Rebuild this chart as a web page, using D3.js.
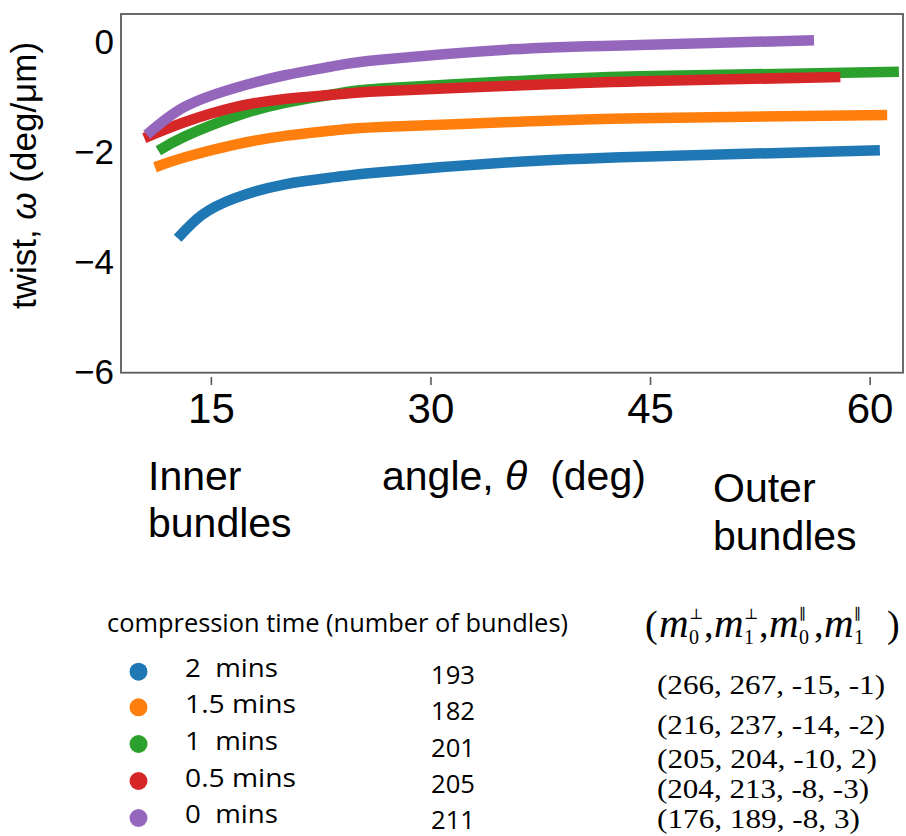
<!DOCTYPE html>
<html>
<head>
<meta charset="utf-8">
<script src="https://cdn.jsdelivr.net/npm/d3@7"></script>
<style>
  html, body { margin: 0; padding: 0; background: #fff; }
  svg { display: block; }
  text { white-space: pre; }
</style>
</head>
<body>
<svg id="chart" width="906" height="836"></svg>
<script>
// ---------------- data ----------------
const seriesNames = ["2  mins", "1.5 mins", "1  mins", "0.5 mins", "0  mins"];
const bundleCounts = ["193", "182", "201", "205", "211"];
const mParams = ["(266, 267, -15, -1)", "(216, 237, -14, -2)", "(205, 204, -10, 2)", "(204, 213, -8, -3)", "(176, 189, -8, 3)"];
const colors = ["#1f77b4", "#ff7f0e", "#2ca02c", "#d62728", "#9467bd"];

const theta2 = [12.73, 14.37, 16.65, 20.06, 23.48, 26.6, 35.5, 44.3, 60.7];
const twist2 = [-3.56, -3.14, -2.83, -2.58, -2.45, -2.36, -2.18, -2.08, -1.96];
const theta15 = [11.18, 13.23, 16.65, 20.06, 23.48, 26.6, 35.5, 44.3, 61.2];
const twist15 = [-2.27, -2.09, -1.86, -1.70, -1.60, -1.54, -1.45, -1.38, -1.32];
const theta1 = [11.41, 13.23, 16.65, 20.06, 23.48, 26.6, 35.5, 44.3, 62.0];
const twist1 = [-1.97, -1.71, -1.35, -1.10, -0.94, -0.84, -0.71, -0.62, -0.535];
const theta05 = [10.45, 13.23, 16.65, 20.06, 23.48, 26.6, 35.5, 44.3, 58.0];
const twist05 = [-1.74, -1.45, -1.18, -1.03, -0.95, -0.89, -0.79, -0.71, -0.63];
const theta0 = [10.62, 13.23, 16.65, 20.06, 23.48, 26.6, 35.5, 44.3, 56.2];
const twist0 = [-1.68, -1.17, -0.83, -0.60, -0.43, -0.32, -0.13, -0.05, 0.035];

const xTicks = [15, 30, 45, 60];
const yTicks = [0, -2, -4, -6];

const seriesTheta = [theta2, theta15, theta1, theta05, theta0];
const seriesTwist = [twist2, twist15, twist1, twist05, twist0];

// ---------------- layout ----------------
const svg = d3.select("#chart");
const L = 121, T = 14, R = 903, B = 372.7;

const x = d3.scaleLinear().domain([8.86, 62.28]).range([L, R]);
const y = d3.scaleLinear().domain([-6, 0.512]).range([B, T]);

const sansAxis = "'Liberation Sans', Arial, sans-serif";
const sansLegend = "'Open Sans', 'Noto Sans', sans-serif";
const serif = "'Liberation Serif', 'DejaVu Serif', serif";

// lines
const line = d3.line().x(d => x(d[0])).y(d => y(d[1])).curve(d3.curveNatural);
seriesTheta.forEach((th, i) => {
  const pts = th.map((t, j) => [t, seriesTwist[i][j]]);
  svg.append("path")
    .attr("d", line(pts))
    .attr("fill", "none")
    .attr("stroke", colors[i])
    .attr("stroke-width", 10.5)
    .attr("stroke-linecap", "butt")
    .attr("stroke-linejoin", "round");
});

// frame
svg.append("rect")
  .attr("x", L).attr("y", T).attr("width", R - L).attr("height", B - T)
  .attr("fill", "none").attr("stroke", "#5a5a5a").attr("stroke-width", 1.8);

// y axis
const yAxis = d3.axisLeft(y).tickValues(yTicks).tickSizeInner(0).tickSizeOuter(0).tickPadding(7)
  .tickFormat(d3.format("d"));
const gy = svg.append("g").attr("transform", `translate(${L},0)`).call(yAxis);
gy.select(".domain").remove();
gy.selectAll("text").attr("font-family", sansAxis).attr("font-size", 35).attr("fill", "#000");

// x axis (ticks detached slightly below frame)
const xAxis = d3.axisBottom(x).tickValues(xTicks).tickSizeInner(8).tickSizeOuter(0).tickPadding(8);
const gx = svg.append("g").attr("transform", `translate(0,377)`).call(xAxis);
gx.select(".domain").remove();
gx.selectAll("line").attr("stroke", "#5a5a5a").attr("stroke-width", 1.6);
gx.selectAll("text").attr("font-family", sansAxis).attr("font-size", 42).attr("fill", "#000");

// y axis title
const yt = svg.append("text")
  .attr("transform", "translate(36,175.5) rotate(-90)")
  .attr("text-anchor", "middle")
  .attr("font-family", sansAxis).attr("font-size", 35).attr("fill", "#000");
yt.append("tspan").text("twist, ");
yt.append("tspan").attr("font-style", "italic").text("ω");
yt.append("tspan").text(" (deg/μm)");

// x axis labels
const axLab = (txt, xx, yy) => svg.append("text").attr("x", xx).attr("y", yy)
  .attr("font-family", sansAxis).attr("font-size", 41).attr("fill", "#000").text(txt);
axLab("Inner", 148, 490);
axLab("bundles", 148, 537);
axLab("Outer", 713, 502);
axLab("bundles", 713, 550);
const xt = svg.append("text").attr("x", 382).attr("y", 490)
  .attr("font-family", sansAxis).attr("font-size", 41).attr("fill", "#000");
xt.append("tspan").text("angle, ");
xt.append("tspan").attr("font-style", "italic").text("θ");
xt.append("tspan").text("  (deg)");

// legend
svg.append("text").attr("x", 107).attr("y", 632)
  .attr("font-family", sansLegend).attr("font-size", 25).attr("fill", "#000")
  .attr("textLength", 461).attr("lengthAdjust", "spacingAndGlyphs")
  .text("compression time (number of bundles)");
const dotY = [671.7, 707.3, 744, 781, 818];
const labY = [677, 713, 750, 787, 823];
const labW = [93, 111, 93, 111, 93];
const numY = [684, 720, 757, 793, 829];
seriesNames.forEach((n, i) => {
  svg.append("circle").attr("cx", 138.5).attr("cy", dotY[i]).attr("r", 9).attr("fill", colors[i]);
  svg.append("text").attr("x", 185).attr("y", labY[i])
    .attr("font-family", sansLegend).attr("font-size", 26).attr("fill", "#000")
    .attr("textLength", labW[i]).attr("lengthAdjust", "spacingAndGlyphs").text(n);
  svg.append("text").attr("x", 431).attr("y", numY[i])
    .attr("font-family", sansLegend).attr("font-size", 26).attr("fill", "#000")
    .attr("textLength", 44).attr("lengthAdjust", "spacingAndGlyphs").text(bundleCounts[i]);
});

// parameter column header
const hdrY = 637;
const hf = 38;
svg.append("text").attr("x", 645).attr("y", hdrY).attr("font-family", serif).attr("font-size", hf).text("(");
const subs = ["0", "1", "0", "1"];
const sups = ["⊥", "⊥", "∥", "∥"];
subs.forEach((s, i) => {
  const mx = 659 + i * 55;
  svg.append("text").attr("x", mx).attr("y", hdrY).attr("font-family", serif)
    .attr("font-style", "italic").attr("font-size", 41).text("m");
  svg.append("text").attr("x", mx + 30).attr("y", hdrY + 7).attr("font-family", serif)
    .attr("font-size", 20).text(s);
  svg.append("text").attr("x", mx + 30).attr("y", hdrY - 18).attr("font-family", "'DejaVu Serif', serif")
    .attr("font-size", 15).text(sups[i]);
  if (i < 3) svg.append("text").attr("x", mx + 45).attr("y", hdrY).attr("font-family", serif)
    .attr("font-size", hf).text(",");
});
svg.append("text").attr("x", 887).attr("y", hdrY).attr("font-family", serif).attr("font-size", hf).text(")");

const parY = [694, 734, 768, 798, 828];
const parW = [228, 228, 220, 212, 203];
mParams.forEach((p, i) => {
  svg.append("text").attr("x", 657).attr("y", parY[i])
    .attr("font-family", serif).attr("font-size", 28).attr("fill", "#000")
    .attr("textLength", parW[i]).attr("lengthAdjust", "spacingAndGlyphs")
    .text(p);
});
</script>
</body>
</html>
